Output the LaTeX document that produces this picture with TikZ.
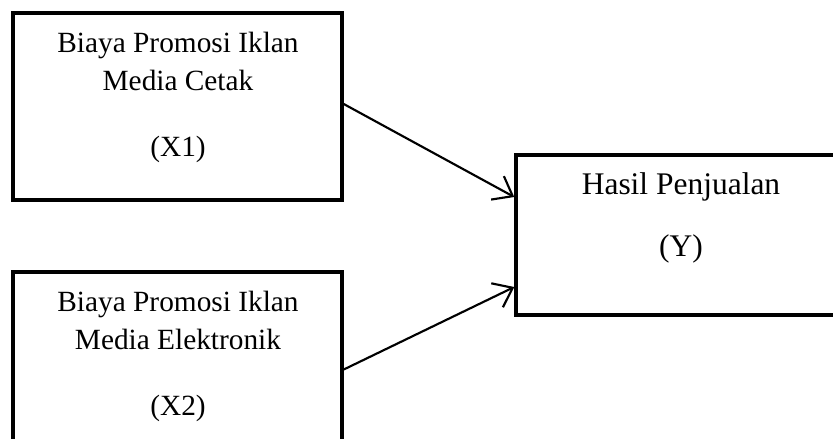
\documentclass[tikz,border=0pt]{standalone}
\usepackage{fontspec}
\setmainfont{Liberation Serif}
\usetikzlibrary{calc, arrows.meta}

\tikzset{
    kotak/.style={draw, line width=1.3pt, inner sep=0pt, minimum width=123.4pt, minimum height=70.1pt},
    teks/.style={anchor=north, align=center, inner sep=0pt, font=\fontsize{11}{14.25}\selectfont},
    panah/.style={line width=0.8pt, -{Straight Barb[length=6.5pt, width=10pt]}}
}

\begin{document}
\begin{tikzpicture}[x=0.375pt, y=0.375pt]
        \useasboundingbox (0,0) rectangle (833,438);
        \clip (0,0) rectangle (833,438);
        % kotak variabel
        \node[kotak] (x1) at (177.5,331.5) {};
        \node[kotak] (x2) at (177.5,72.5) {};
        \node[kotak, minimum width=122.25pt, minimum height=60pt] (hasil) at (679,203) {};
        % teks
        \node[teks] (tx1) at ($(x1.north)+(0.5,-20)$) {Biaya Promosi Iklan\\Media Cetak\\[10.5pt](X1)};
        \node[teks] (tx2) at ($(x2.north)+(0.5,-20)$) {Biaya Promosi Iklan\\Media Elektronik\\[10.5pt](X2)};
        \node[teks, font=\fontsize{11.8}{15.3}\selectfont] (ty) at ($(hasil.north)+(2,-18.5)$) {Hasil Penjualan\\[8pt](Y)};
        % panah
        \draw[panah] ($(x1.east)+(0,2.5)$) -- ($(hasil.west)+(0,38)$);
        \draw[panah] ($(x2.east)+(0,-4)$) -- ($(hasil.west)+(0,-52)$);
\end{tikzpicture}
\end{document}
